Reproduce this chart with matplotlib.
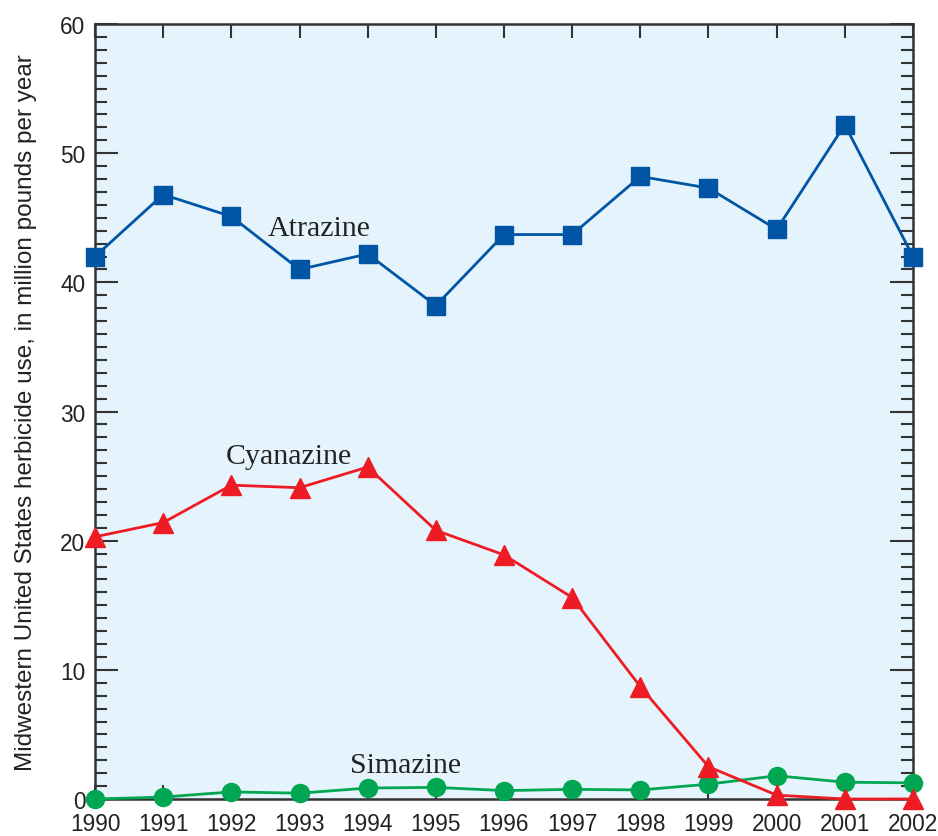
import numpy as np
import matplotlib
matplotlib.use("Agg")
import matplotlib.pyplot as plt
from matplotlib import font_manager
from matplotlib.ticker import MultipleLocator

# data
years = list(range(1990, 2003))
atrazine = [42.0, 46.8, 45.1, 41.0, 42.2, 38.2, 43.7, 43.7, 48.2, 47.3, 44.1, 52.2, 42.0]
cyanazine = [20.3, 21.4, 24.3, 24.1, 25.7, 20.8, 18.9, 15.6, 8.7, 2.5, 0.3, 0.0, 0.0]
simazine = [0.0, 0.15, 0.55, 0.45, 0.85, 0.9, 0.65, 0.75, 0.7, 1.15, 1.8, 1.3, 1.25]
series_labels = ["Atrazine", "Cyanazine", "Simazine"]
ylabel = "Midwestern United States herbicide use, in million pounds per year"

blue = "#0055A5"
red = "#ED1C24"
green = "#00A651"
axis_col = "#333333"
text_col = "#222222"

# condensed sans if available, else plain sans
available = {f.name for f in font_manager.fontManager.ttflist}
sans = "DejaVu Sans"
for name in ["Liberation Sans Narrow", "Liberation Sans"]:
    if name in available:
        sans = name
        break
serif = ["Liberation Serif", "DejaVu Serif"]
tick_size = 18 if sans == "Liberation Sans Narrow" else 16.3

fig = plt.figure(figsize=(9.38, 8.37), dpi=100)
ax = fig.add_axes([0.1013, 0.0442, 0.872, 0.9259])
ax.set_facecolor("#E5F4FC")

ax.plot(years, atrazine, color=blue, lw=2.0, marker="s", ms=13, clip_on=False, zorder=3)
ax.plot(years, cyanazine, color=red, lw=2.0, marker="^", ms=15, clip_on=False, zorder=4)
ax.plot(years, simazine, color=green, lw=2.0, marker="o", ms=13, clip_on=False, zorder=3)

ax.text(1993.29, 43.7, series_labels[0], family=serif, fontsize=21.5, color=text_col,
        ha="center", va="baseline")
ax.text(1992.85, 26.0, series_labels[1], family=serif, fontsize=21.5, color=text_col,
        ha="center", va="baseline")
ax.text(1994.55, 2.1, series_labels[2], family=serif, fontsize=21.5, color=text_col,
        ha="center", va="baseline")

ax.set_xlim(1990, 2002)
ax.set_ylim(0, 60)
ax.set_xticks(years)
ax.set_xticklabels([str(y) for y in years])
ax.yaxis.set_major_locator(MultipleLocator(10))
ax.yaxis.set_minor_locator(MultipleLocator(1))

ax.tick_params(axis="y", which="major", direction="in", length=16.5, width=1.5,
               color=axis_col, left=True, right=True, pad=7)
ax.tick_params(axis="y", which="minor", direction="in", length=8.5, width=1.5,
               color=axis_col, left=True, right=True)
ax.tick_params(axis="x", which="major", direction="in", length=10, width=1.5,
               color=axis_col, top=True, bottom=True, pad=9)

for lbl in ax.get_xticklabels() + ax.get_yticklabels():
    lbl.set_family(sans)
    lbl.set_fontsize(tick_size)
    lbl.set_color(text_col)

for s in ax.spines.values():
    s.set_color(axis_col)
    s.set_linewidth(1.8)

ax.set_ylabel(ylabel, family=sans, fontsize=18, color=text_col)
ax.yaxis.set_label_coords(-0.071, 0.5)

# fit the axis title to the reference length
renderer = fig.canvas.get_renderer()
yl = ax.yaxis.label
h = yl.get_window_extent(renderer).height
yl.set_fontsize(18 * 718.0 / h)

fig.savefig("out.png", dpi=100)
